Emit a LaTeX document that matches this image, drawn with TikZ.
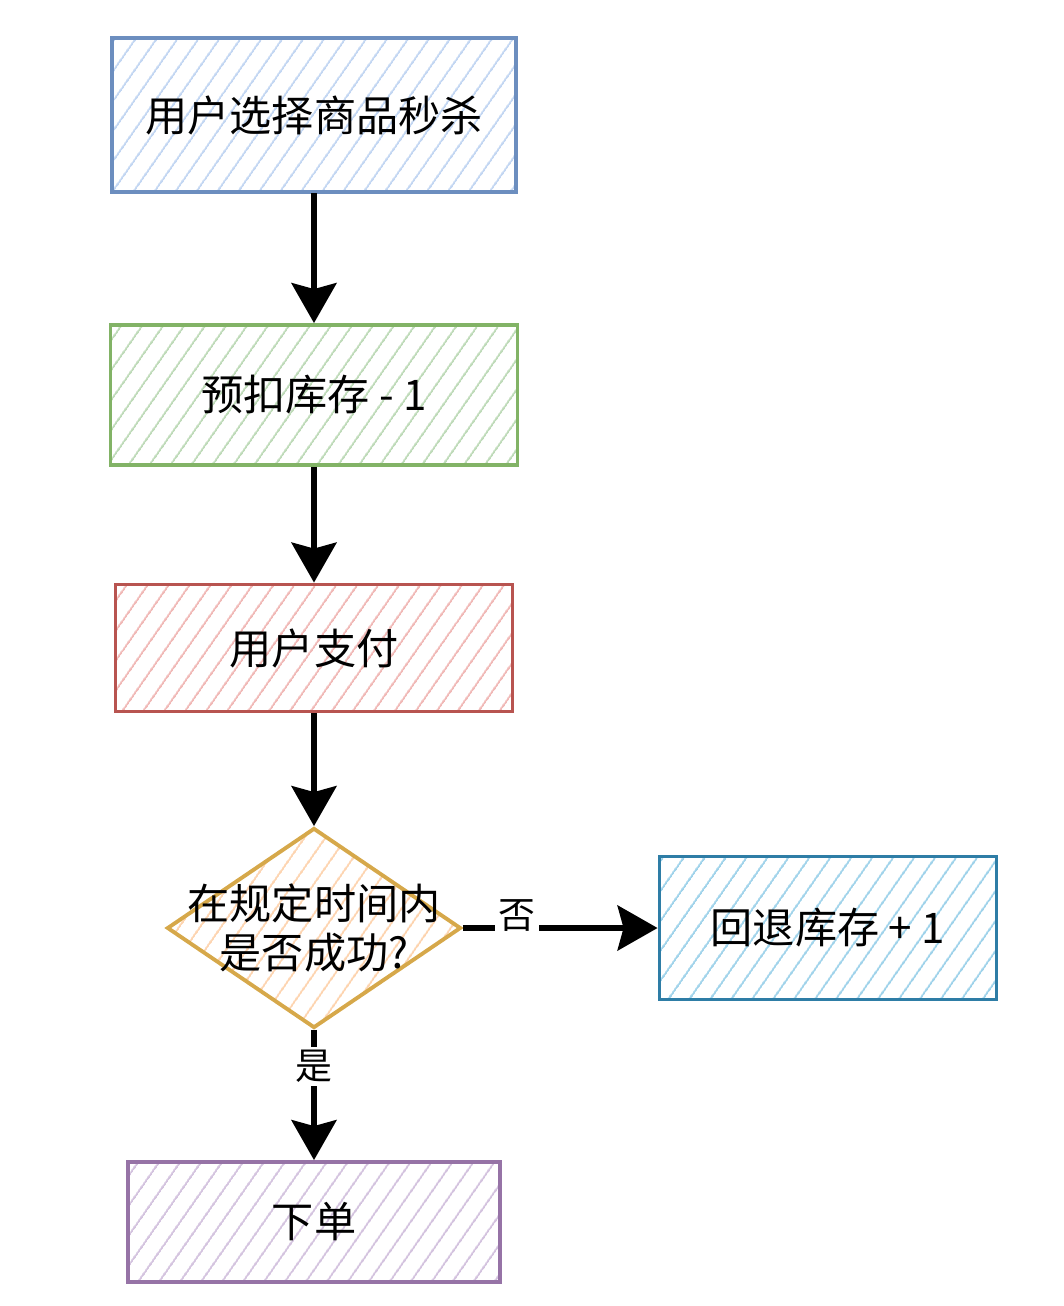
\documentclass[tikz,border=0pt]{standalone}
\usepackage{fontspec}
\setmainfont{Noto Sans CJK SC}
\usetikzlibrary{arrows.meta,shapes.geometric,patterns.meta}

\definecolor{bluedraw}{HTML}{6C8EBF}
\definecolor{bluefill}{HTML}{C2D6F2}
\definecolor{greendraw}{HTML}{82B366}
\definecolor{greenfill}{HTML}{BEDAB8}
\definecolor{reddraw}{HTML}{B85450}
\definecolor{redfill}{HTML}{F0B8B6}
\definecolor{golddraw}{HTML}{D6A84A}
\definecolor{goldfill}{HTML}{FDD3AE}
\definecolor{tealdraw}{HTML}{2E7DA6}
\definecolor{tealfill}{HTML}{9ED2EA}
\definecolor{purpledraw}{HTML}{9673A6}
\definecolor{purplefill}{HTML}{D3C2DE}

\tikzset{
  hatch/.style={pattern={Lines[angle=55,distance=0.34cm,line width=1.2pt]},pattern color=#1},
  stepbox/.style={draw=#1draw,line width=2.2pt,hatch=#1fill,rectangle,inner sep=0pt},
  txt/.style={font=\fontsize{24}{27.5}\selectfont},
  flow/.style={->,line width=3pt},
  lab/.style={fill=white,inner sep=2pt,font=\fontsize{21}{24}\selectfont}
}

\begin{document}
\begin{tikzpicture}[>={Stealth[length=0.8cm,width=0.9cm,inset=0.12cm]}]
   \useasboundingbox (0,0) rectangle (21.28,-26.12);

   \node[stepbox=blue,minimum width=8.08cm,minimum height=3.08cm] (choose) at (6.28,-2.30) {};
   \node[txt] (choosetxt) at (choose.center) {用户选择商品秒杀};
   \node[stepbox=green,minimum width=8.14cm,minimum height=2.80cm] (hold) at (6.28,-7.90) {};
   \node[txt] (holdtxt) at (hold.center) {预扣库存 - 1};
   \node[stepbox=red,minimum width=7.94cm,minimum height=2.54cm] (pay) at (6.28,-12.96) {};
   \node[txt] (paytxt) at (pay.center) {用户支付};
   \node[diamond,draw=golddraw,line width=2.2pt,hatch=goldfill,aspect=1.47,inner sep=0pt,
         minimum width=5.88cm,minimum height=4.0cm] (check) at (6.28,-18.56) {};
   \node[txt,align=center] (checktxt) at (check.center) {在规定时间内\\是否成功?};
   \node[stepbox=teal,minimum width=6.74cm,minimum height=2.86cm] (back) at (16.56,-18.56) {};
   \node[txt] (backtxt) at (back.center) {回退库存 + 1};
   \node[stepbox=purple,minimum width=7.44cm,minimum height=2.40cm] (order) at (6.28,-24.44) {};
   \node[txt] (ordertxt) at (order.center) {下单};

   \draw [flow] (choose) -- (hold) ;
   \draw [flow] (hold) -- (pay) ;
   \draw [flow] (pay) -- (check) ;
   \draw [flow] (check) -- node[lab,pos=0.28,yshift=0.25cm] (no) {否} (back) ;
   \draw [flow] (check) -- node[lab,pos=0.28] (yes) {是} (order) ;
\end{tikzpicture}
\end{document}
